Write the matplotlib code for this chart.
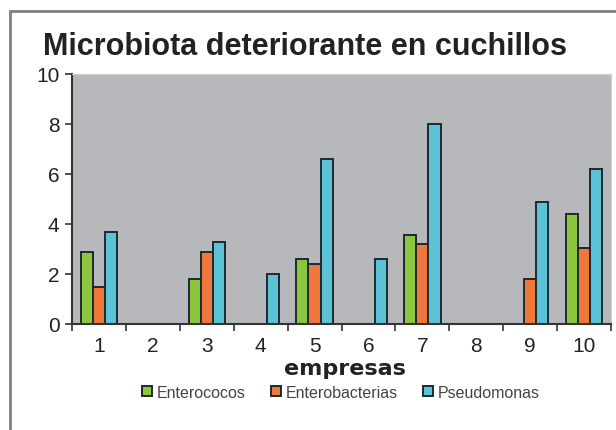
import numpy as np
import matplotlib.pyplot as plt
from matplotlib.patches import Rectangle

plt.rcParams['font.family'] = ['Liberation Sans', 'DejaVu Sans']

# datos
empresas = ['1', '2', '3', '4', '5', '6', '7', '8', '9', '10']
enterococos = [2.9, 0, 1.8, 0, 2.6, 0, 3.55, 0, 0, 4.4]
enterobacterias = [1.5, 0, 2.9, 0, 2.4, 0, 3.2, 0, 1.8, 3.05]
pseudomonas = [3.7, 0, 3.3, 2.0, 6.6, 2.6, 8.0, 0, 4.9, 6.2]
series = ['Enterococos', 'Enterobacterias', 'Pseudomonas']
colores = ['#8cc63f', '#f0773a', '#5cc3d6']

fig = plt.figure(figsize=(6.16, 4.31), dpi=100)
# marco exterior
fig.patches.append(Rectangle((10 / 616, -0.1), 1.2, 1 - 12 / 431 + 0.1,
                             transform=fig.transFigure, fill=False,
                             edgecolor='#7f7f7f', linewidth=2))

ax = fig.add_axes([72 / 616, 1 - 325 / 431, 539 / 616, 250 / 431])
ax.set_facecolor('#b6b8bb')

x = np.arange(1, len(empresas) + 1)
w = 0.225
for i, (vals, nombre, c) in enumerate(zip([enterococos, enterobacterias, pseudomonas], series, colores)):
    ax.bar(x + (i - 1) * w, vals, width=w, color=c, edgecolor='#1c2a30',
           linewidth=1.4, label=nombre)

ax.set_xlim(0.5, 10.5)
ax.set_ylim(0, 10)
ax.set_yticks([0, 2, 4, 6, 8, 10])
ax.set_xticks(x)
ax.set_xticklabels(empresas)
ax.set_xticks(np.arange(0.5, 11, 1), minor=True)
ax.tick_params(axis='x', which='major', length=0, labelsize=15, pad=9, labelcolor='#222222')
ax.tick_params(axis='x', which='minor', length=5, width=1.2, direction='out', color='#333333')
ax.tick_params(axis='y', length=5, width=1.2, labelsize=15, pad=4, color='#333333',
               labelcolor='#222222')

for s in ['top', 'right']:
    ax.spines[s].set_color('#d0d0d0')
for s in ['left', 'bottom']:
    ax.spines[s].set_color('#333333')
    ax.spines[s].set_linewidth(1.5)

fig.text(305 / 616, 1 - 55 / 431, 'Microbiota deteriorante en cuchillos',
         ha='center', va='baseline', fontsize=22, fontweight='bold', color='#222222')
fig.text(345 / 616, 1 - 369 / 431, 'empresas', ha='center', va='center',
         fontsize=16, fontweight='bold', color='#222222', family='DejaVu Sans')

ax.legend(loc='center', bbox_to_anchor=(341 / 616, 1 - 393 / 431),
          bbox_transform=fig.transFigure, ncol=3, frameon=False,
          fontsize=11.5, handlelength=0.6, handleheight=0.6, handletextpad=0.3,
          columnspacing=1.6, labelcolor='#444444')

fig.savefig('out.png', dpi=100, facecolor='white')
